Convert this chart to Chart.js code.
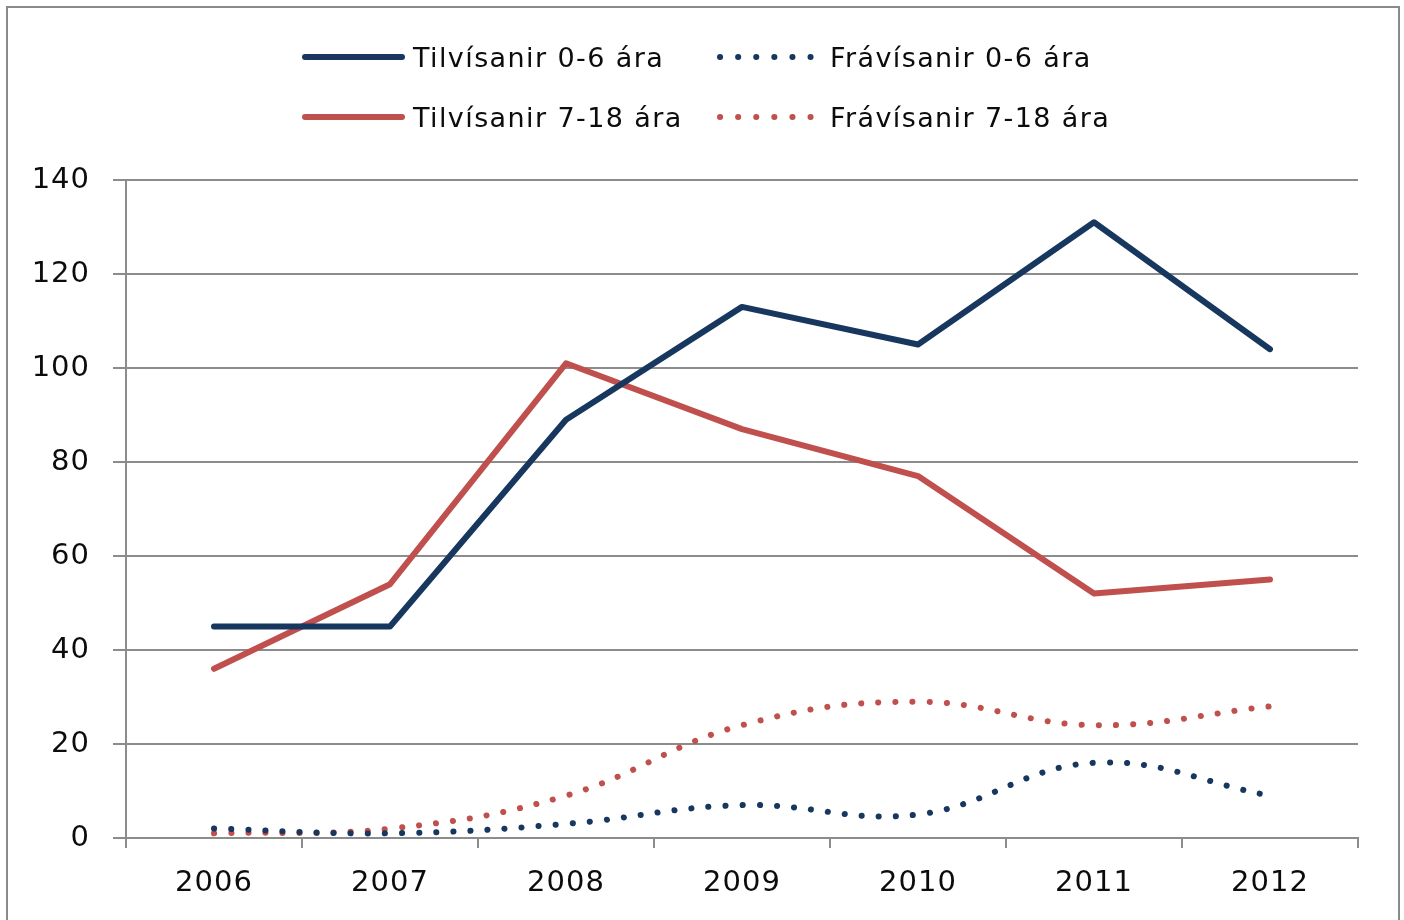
<!DOCTYPE html>
<html>
<head>
<meta charset="utf-8">
<script src="https://cdn.jsdelivr.net/npm/chart.js@4/dist/chart.umd.min.js"></script>
<style>
  body { margin: 0; background: #fff; width: 1404px; height: 920px; overflow: hidden; position: relative; font-family: "DejaVu Sans", sans-serif; }
  #frame { position: absolute; left: 6px; top: 6px; width: 1394px; height: 930px; border: 2px solid #8a8a8a; box-sizing: border-box; }
  #wrap { position: absolute; left: 0; top: 0; width: 1404px; height: 920px; }
  #legend { position: absolute; left: 300px; top: 0; }
  .item { position: absolute; display: flex; align-items: center; white-space: nowrap; font-size: 27px; letter-spacing: 1.4px; color: #0c0c0c; }
  .item svg { margin-right: 7px; }
</style>
</head>
<body>
<div id="frame"></div>
<div id="wrap"><canvas id="lineChart"></canvas></div>
<div id="legend"></div>
<script>
"use strict";

// gögn
const years = ['2006', '2007', '2008', '2009', '2010', '2011', '2012'];
const tilv06 = [45, 45, 89, 113, 105, 131, 104];
const frav06 = [2, 1, 3, 7, 5, 16, 9];
const tilv718 = [36, 54, 101, 87, 77, 52, 55];
const frav718 = [1, 2, 9, 24, 29, 24, 28];
const yTicks = [0, 20, 40, 60, 80, 100, 120, 140];

const navy = '#17375e';
const red = '#c0504d';

function solid(label, data, color) {
    return { label: label, data: data, borderColor: color, backgroundColor: color,
        borderWidth: 6, pointRadius: 0, tension: 0, borderCapStyle: 'round', borderJoinStyle: 'round' };
}
function dotted(label, data, color) {
    return { label: label, data: data, borderColor: color, backgroundColor: color,
        borderWidth: 6, pointRadius: 0, tension: 0.4, borderDash: [0.1, 17],
        borderCapStyle: 'round' };
}

const datasets = [
    solid('Tilvísanir 0-6 ára', tilv06, navy),
    dotted('Frávísanir 0-6 ára', frav06, navy),
    solid('Tilvísanir 7-18 ára', tilv718, red),
    dotted('Frávísanir 7-18 ára', frav718, red)
];

const tickFont = { family: 'DejaVu Sans', size: 29 };
const gridColor = '#8c8c8c';

// breiðara letur á ásum
const spacingPlugin = {
    id: 'spacing',
    beforeUpdate: function (c) { c.ctx.letterSpacing = '1px'; },
    beforeDraw: function (c) { c.ctx.letterSpacing = '1px'; }
};

const chart = new Chart(document.getElementById('lineChart'), {
    type: 'line',
    data: { labels: years, datasets: datasets },
    plugins: [spacingPlugin],
    options: {
        responsive: true,
        maintainAspectRatio: false,
        animation: false,
        layout: { padding: { left: 0, right: 46, top: 180, bottom: 0 } },
        plugins: { legend: { display: false }, tooltip: { enabled: false } },
        scales: {
            x: {
                offset: true,
                grid: { offset: true, drawOnChartArea: false, color: gridColor, lineWidth: 2, tickLength: 10 },
                border: { color: gridColor, width: 2 },
                ticks: { font: tickFont, color: '#0c0c0c', padding: 18, maxRotation: 0 },
                afterFit: function (scale) { scale.height = 82; }
            },
            y: {
                min: 0,
                max: 140,
                afterBuildTicks: function (scale) { scale.ticks = yTicks.map(v => ({ value: v })); },
                grid: { color: gridColor, lineWidth: 2, tickLength: 13 },
                border: { color: gridColor, width: 2 },
                ticks: { font: tickFont, color: '#0c0c0c', padding: 23 },
                afterFit: function (scale) { scale.width = 126; }
            }
        }
    }
});

// legend, tvær raðir
const legendEl = document.getElementById('legend');
const pos = [[0, 57], [415, 57], [0, 117], [415, 117]];
chart.data.datasets.forEach(function (ds, i) {
    const el = document.createElement('div');
    el.className = 'item';
    el.style.left = pos[i][0] + 'px';
    el.style.top = (pos[i][1] - 16) + 'px';
    const dash = ds.borderDash ? 'stroke-dasharray="0.1 18"' : '';
    const w = ds.borderDash ? 108 : 106;
    el.innerHTML = '<svg width="' + w + '" height="32"><line x1="5" y1="16" x2="' + (ds.borderDash ? 96 : 102) +
        '" y2="16" stroke="' + ds.borderColor + '" stroke-width="6" stroke-linecap="round" ' + dash + '/></svg>' +
        '<span>' + ds.label + '</span>';
    legendEl.appendChild(el);
});
</script>
</body>
</html>
